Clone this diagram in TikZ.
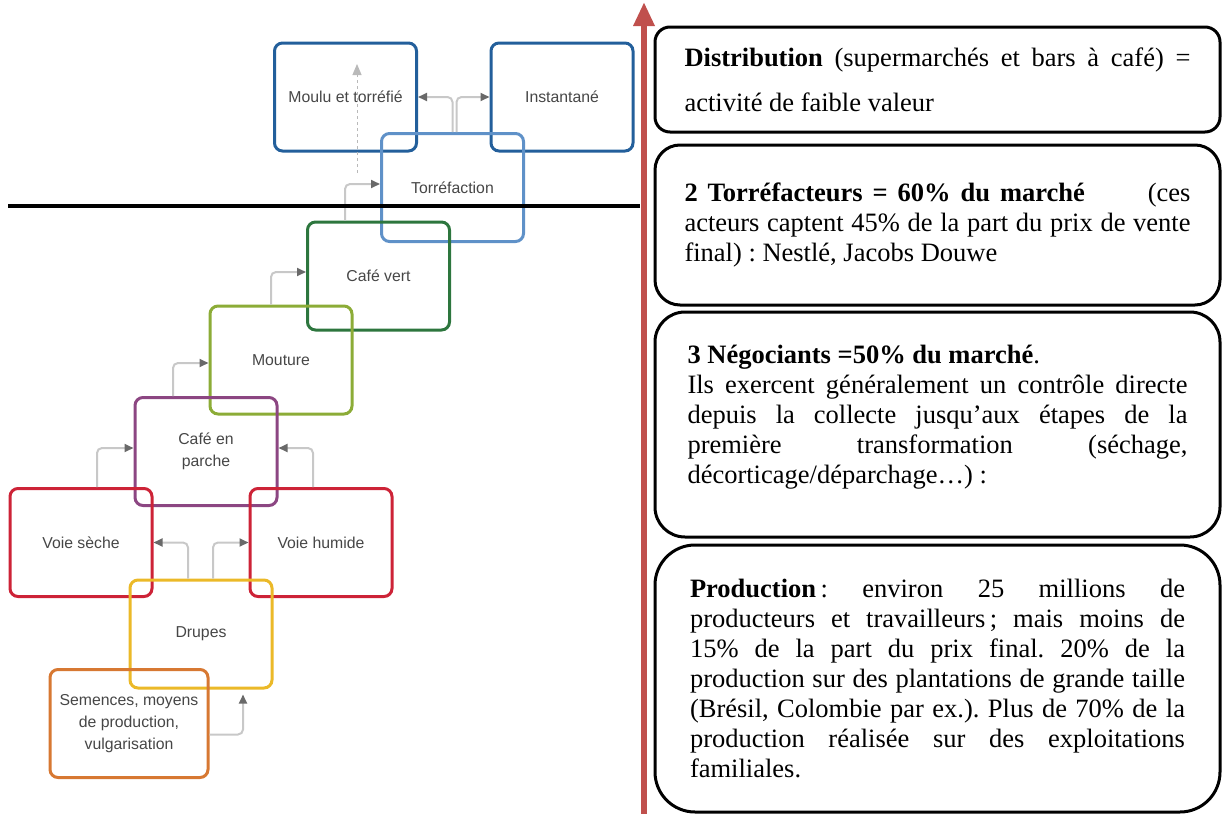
\documentclass[tikz,border=0pt]{standalone}
\usepackage{fontspec}
\setmainfont{Liberation Serif}
\newfontfamily\stagefont{Liberation Sans}
\usepackage{xcolor}
\usetikzlibrary{arrows.meta, positioning, calc}
\frenchspacing

\definecolor{darkblue}{RGB}{35,95,155}
\definecolor{lightblue}{RGB}{95,145,200}
\definecolor{darkgreen}{RGB}{45,118,62}
\definecolor{olivegreen}{RGB}{140,172,55}
\definecolor{plum}{RGB}{140,70,130}
\definecolor{voiered}{RGB}{205,35,55}
\definecolor{drupeyellow}{RGB}{235,185,40}
\definecolor{seedorange}{RGB}{215,120,50}
\definecolor{labelgray}{RGB}{70,70,70}
\definecolor{linkgray}{RGB}{200,200,200}
\definecolor{tipgray}{RGB}{105,105,105}
\definecolor{dashgray}{RGB}{185,185,185}
\definecolor{valuered}{RGB}{192,80,77}

\begin{document}
\begin{tikzpicture}[x=1pt, y=-1pt,
    stage/.style={line width=3pt, rounded corners=8pt, minimum width=142pt,
      minimum height=108pt, inner sep=2pt, align=center, text=labelgray,
      font=\stagefont\fontsize{15.8pt}{22pt}\selectfont},
    link/.style={draw=linkgray, line width=2pt, rounded corners=5pt,
      -{Triangle[length=9pt, width=8pt, color=tipgray]}},
    actor/.style={draw=black, line width=3pt, minimum width=565pt, inner sep=0pt,
      align=justify, font=\fontsize{26.5pt}{30pt}\selectfont}]
    \useasboundingbox (0,0) rectangle (1224,814);

    % Coffee chain stages
    \node[stage, draw=darkblue] (moulu) at (345.5,97) {Moulu et torréfié};
    \node[stage, draw=darkblue] (instant) at (562,97) {Instantané};
    \node[stage, draw=lightblue] (torref) at (452.5,187.5) {Torréfaction};
    \node[stage, draw=darkgreen] (vert) at (378.5,276) {Café vert};
    \node[stage, draw=olivegreen] (mouture) at (281,360) {Mouture};
    \node[stage, draw=plum] (parche) at (206,451.5) {Café en\\parche};
    \node[stage, draw=voiered] (seche) at (81,542.5) {Voie sèche};
    \node[stage, draw=voiered] (humide) at (321,542.5) {Voie humide};
    \node[stage, draw=drupeyellow] (drupes) at (201,634) {Drupes};
    \node[stage, draw=seedorange, minimum width=158pt] (semences) at (129,723.5)
      {Semences, moyens\\de production,\\vulgarisation};

    % Links between stages
    \draw[link, shorten >=5pt] ([yshift=-11pt]semences.east) -| ([xshift=42pt]drupes.south);
    \draw[link] ([xshift=-13pt]drupes.north) |- (seche.east);
    \draw[link] ([xshift=12pt]drupes.north) |- (humide.west);
    \draw[link] ([xshift=16pt]seche.north) |- ([yshift=3.5pt]parche.west);
    \draw[link] ([xshift=-8pt]humide.north) |- ([yshift=3.5pt]parche.east);
    \draw[link] ([xshift=-33pt]parche.north) |- ([yshift=-3pt]mouture.west);
    \draw[link] ([xshift=-10pt]mouture.north) |- ([yshift=4pt]vert.west);
    \draw[link] ([xshift=-33.5pt]vert.north) |- ([yshift=3.5pt]torref.west);
    \draw[link] ([xshift=0pt]torref.north) |- (moulu.east);
    \draw[link] ([xshift=4pt]torref.north) |- (instant.west);

    \coordinate (dashfoot) at (357,173);
    \coordinate (dashtip) at (357,64);
    \draw[dashed, draw=dashgray, line width=1pt,
      -{Triangle[length=11pt, width=9pt, color=dashgray]}] (dashfoot) -- (dashtip);

    % Cut line and value axis
    \coordinate (cutleft) at (8,206);
    \coordinate (cutright) at (640,206);
    \draw[line width=4pt] (cutleft) -- (cutright);
    \coordinate (valuefoot) at (644,816);
    \coordinate (valuetop) at (644,2);
    \draw[draw=valuered, line width=6pt,
      -{Triangle[length=24pt, width=20pt, color=valuered]}] (valuefoot) -- (valuetop);

    % Actors of the chain
    \node[actor, rounded corners=15pt, minimum height=105pt, text width=506pt,
      font=\fontsize{26.5pt}{45pt}\selectfont] (distrib) at (937.5,79.5)
      {\textbf{Distribution} (supermarchés et bars à café) =\linebreak
       activité de faible valeur};
    \node[actor, rounded corners=25pt, minimum height=160pt, text width=506pt]
      (roasters) at (937.5,225)
      {\textbf{2 Torréfacteurs = 60\% du marché}\hspace{2em} (ces\linebreak
       acteurs captent 45\% de la part du prix de vente\linebreak
       final) : Nestlé, Jacobs Douwe};
    \node[actor, rounded corners=30pt, minimum height=225pt, text width=500pt]
      (traders) at (937.5,424.5)
      {\textbf{3 Négociants =50\% du marché}.\newline
       Ils exercent généralement un contrôle directe\linebreak
       depuis la collecte jusqu’aux étapes de la\linebreak
       première transformation (séchage,\linebreak
       décorticage/déparchage…) :\par\nointerlineskip\noindent\rule{0pt}{14pt}};
    \node[actor, rounded corners=40pt, minimum height=267pt, text width=495pt]
      (growers) at (937.5,678.5)
      {\textbf{Production}\,: environ 25 millions de\linebreak
       producteurs et travailleurs\,; mais moins de\linebreak
       15\% de la part du prix final. 20\% de la\linebreak
       production sur des plantations de grande taille\linebreak
       (Brésil, Colombie par ex.). Plus de 70\% de la\linebreak
       production réalisée sur des exploitations\linebreak
       familiales.};
\end{tikzpicture}
\end{document}
